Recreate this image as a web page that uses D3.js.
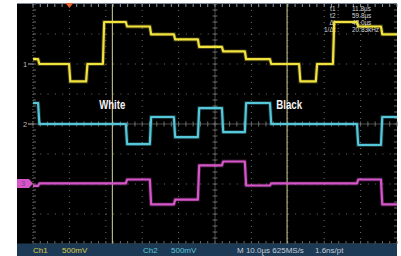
<!DOCTYPE html>
<html>
<head>
<meta charset="utf-8">
<script src="https://cdn.jsdelivr.net/npm/d3@7/dist/d3.min.js"></script>
<style>
  body { margin: 0; background: #fff; }
  svg { display: block; }
</style>
</head>
<body>
<div id="chart"></div>
<script>
// scope settings (10 us/div, 500 mV/div)
var timeDomain = [-10, 90];          // us, trigger at 0
var divDomain = [-4, 4];             // vertical divisions
var mvPerDiv = 500;

// breakpoints of the stepped video signals (us)
var stepTimes = [-10, -8.6, -0.1, 4.6, 9.2, 15.5, 22.1, 28.7, 35.3, 41.9, 48.2, 55.1, 63.1, 67.7, 72.4, 79.0, 85.6, 90];
// levels after each breakpoint (mV)
var ch1Values = [80, 0, -290, 0, 700, 625, 495, 410, 285, 210, 80, 0, -290, 0, 700, 625, 495, 495];
var ch2Values = [350, 0, 0, 0, 0, -335, 117, -220, 265, -135, 350, 0, 0, 0, 0, -350, 117, 117];
var ch3Values = [-40, 0, 0, 0, 0, 65, -350, -270, 300, 365, -35, 0, 0, 0, 0, 65, -350, -350];

var channelNames = ["1", "2", "3"];
var channelOffsets = [2, 0, -1.98];  // divisions
var channelColors = ["#f1e23e", "#56c6d9", "#d656c9"];

var cursorTimes = [11.8, 59.8];
var readoutLabels = ["t1 :", "t2 :", "\u0394t :", "1/\u0394t :"];
var readoutValues = ["11.8\u00b5s", "59.8\u00b5s", "48.0\u00b5s", "20.83kHz"];

var width = 401, height = 256;

var svg = d3.select('#chart')
  .append('svg')
  .attr('width', width)
  .attr('height', height);

///////////////////////
// Scales
var x = d3.scaleLinear().domain(timeDomain).range([33, 397]);
var y = d3.scaleLinear().domain(divDomain).range([244, 4]);

// screen
svg.append('rect').attr('x', 17).attr('y', 3).attr('width', 380).attr('height', 241).attr('fill', '#000');
svg.append('line').attr('x1', 17).attr('x2', 397).attr('y1', 3.5).attr('y2', 3.5)
  .attr('stroke', '#7d8c9c').attr('stroke-width', 1.2);

///////////////////////
// Graticule
var grid = svg.append('g').attr('stroke', '#6a6a6a');
var xMajor = d3.range(-10, 91, 10);
var yMajor = d3.range(-4, 5, 1);
var xMinor = d3.range(-10, 90.01, 2);
var yMinor = d3.range(-4, 4.01, 0.2);

grid.selectAll('.vgrid').data(xMajor.slice(1, -1)).enter().append('line')
  .attr('x1', d => x(d)).attr('x2', d => x(d)).attr('y1', y(4)).attr('y2', y(-4))
  .attr('stroke-width', 1).attr('stroke-dasharray', '1,5');
grid.selectAll('.hgrid').data(yMajor.slice(1, -1)).enter().append('line')
  .attr('y1', d => y(d)).attr('y2', d => y(d)).attr('x1', x(-10)).attr('x2', x(90))
  .attr('stroke-width', 1).attr('stroke-dasharray', '1,6.28');

// edges
grid.append('line').attr('x1', x(-10)).attr('x2', x(-10)).attr('y1', y(4)).attr('y2', y(-4)).attr('stroke-dasharray', '1,2');
grid.append('line').attr('x1', x(-10)).attr('x2', x(90)).attr('y1', y(-4)).attr('y2', y(-4)).attr('stroke', '#555');

// center cross with minor ticks
grid.append('line').attr('x1', x(40)).attr('x2', x(40)).attr('y1', y(4)).attr('y2', y(-4)).attr('stroke', '#4a4a4a');
grid.append('line').attr('x1', x(-10)).attr('x2', x(90)).attr('y1', y(0)).attr('y2', y(0)).attr('stroke', '#4a4a4a');

var tickLen = 2.5;
grid.selectAll('.xt').data(xMinor).enter().append('g').each(function(d) {
  var g = d3.select(this);
  g.append('line').attr('x1', x(d)).attr('x2', x(d)).attr('y1', y(0) - tickLen).attr('y2', y(0) + tickLen);
  g.append('line').attr('x1', x(d)).attr('x2', x(d)).attr('y1', y(4)).attr('y2', y(4) + 3).attr('stroke', '#8a96a4');
  g.append('line').attr('x1', x(d)).attr('x2', x(d)).attr('y1', y(-4)).attr('y2', y(-4) - 3);
});
grid.selectAll('.yt').data(yMinor).enter().append('g').each(function(d) {
  var g = d3.select(this);
  g.append('line').attr('y1', y(d)).attr('y2', y(d)).attr('x1', x(40) - tickLen).attr('x2', x(40) + tickLen);
  g.append('line').attr('y1', y(d)).attr('y2', y(d)).attr('x1', x(-10)).attr('x2', x(-10) + 3);
  g.append('line').attr('y1', y(d)).attr('y2', y(d)).attr('x1', x(90)).attr('x2', x(90) - 3);
});

///////////////////////
// Cursors
svg.selectAll('.cursor').data(cursorTimes).enter().append('line')
  .attr('x1', d => x(d)).attr('x2', d => x(d)).attr('y1', y(4)).attr('y2', y(-4))
  .attr('stroke', '#d6d49a').attr('stroke-width', 1);

// trigger position marker
svg.append('path')
  .attr('d', 'M' + (x(0) - 4) + ',3 L' + (x(0) + 4) + ',3 L' + x(0) + ',8 Z')
  .attr('fill', '#e8622e');

// cursor readout
var readout = svg.append('g').attr('font-family', 'Liberation Sans, Arial, sans-serif')
  .attr('font-size', '6.4px').attr('fill', '#d2d6da');
readoutLabels.forEach(function(lbl, i) {
  readout.append('text').attr('x', 339).attr('y', 10.5 + i * 7).attr('text-anchor', 'end').text(lbl);
  readout.append('text').attr('x', 352).attr('y', 10.5 + i * 7).text(readoutValues[i]);
});

///////////////////////
// Traces
var rise = 0.35;
function tracePoints(values, offset) {
  var pts = [[stepTimes[0], values[0]]];
  for (var i = 1; i < stepTimes.length; i++) {
    pts.push([stepTimes[i], values[i - 1]]);
    if (i < stepTimes.length - 1) pts.push([stepTimes[i] + rise, values[i]]);
  }
  return pts.map(function(p) { return [p[0], p[1] / mvPerDiv + offset]; });
}

var line = d3.line()
  .x(function(d) { return x(d[0]); })
  .y(function(d) { return y(d[1]); });

[ch1Values, ch2Values, ch3Values].forEach(function(vals, i) {
  var pts = tracePoints(vals, channelOffsets[i]);
  svg.append('path').datum(pts)
    .attr('fill', 'none').attr('stroke', channelColors[i])
    .attr('stroke-width', 4).attr('stroke-opacity', 0.25).attr('d', line);
  svg.append('path').datum(pts)
    .attr('fill', 'none').attr('stroke', channelColors[i])
    .attr('stroke-width', 2.2).attr('stroke-linejoin', 'round').attr('d', line);
});

// channel ground markers
[0, 1].forEach(function(i) {
  var yy = y(channelOffsets[i]);
  svg.append('text').attr('x', 23).attr('y', yy + 2.6)
    .attr('font-family', 'Liberation Sans, Arial, sans-serif').attr('font-size', '7.5px')
    .attr('fill', '#b8b8b8').text(channelNames[i]);
  svg.append('line').attr('x1', 28).attr('x2', 33).attr('y1', yy).attr('y2', yy)
    .attr('stroke', '#b8b8b8').attr('stroke-width', 1);
});
var y3 = y(channelOffsets[2]);
svg.append('path')
  .attr('d', 'M17,' + (y3 - 4.5) + ' L29,' + (y3 - 4.5) + ' L33,' + y3 + ' L29,' + (y3 + 4.5) + ' L17,' + (y3 + 4.5) + ' Z')
  .attr('fill', channelColors[2]);
svg.append('text').attr('x', 21).attr('y', y3 + 2.7)
  .attr('font-family', 'Liberation Sans, Arial, sans-serif').attr('font-size', '7.5px')
  .attr('fill', '#8a3a88').text(channelNames[2]);

// annotations
var notes = [{ t: 8.2, text: 'White' }, { t: 56.8, text: 'Black' }];
svg.selectAll('.note').data(notes).enter().append('text')
  .attr('x', d => x(d.t)).attr('y', 108.5)
  .attr('font-family', 'Liberation Sans, Arial, sans-serif')
  .attr('font-weight', 'bold').attr('font-size', '12px').attr('fill', '#f4f4f4')
  .attr('textLength', 26).attr('lengthAdjust', 'spacingAndGlyphs')
  .text(d => d.text);

///////////////////////
// Status bar
svg.append('rect').attr('x', 17).attr('y', 243.5).attr('width', 380).attr('height', 13).attr('fill', '#1c3a55');
var statusItems = [
  { x: 33, y: 252.5, text: 'Ch1', c: '#dccd4c' },
  { x: 62, y: 252.5, text: '500mV', c: '#dccd4c' },
  { x: 143, y: 252.5, text: 'Ch2', c: '#5ec6d8' },
  { x: 171, y: 252.5, text: '500mV', c: '#5ec6d8' },
  { x: 237, y: 252.5, text: 'M 10.0\u00b5s 625MS/s', c: '#c4ced8' },
  { x: 315, y: 252.5, text: '1.6ns/pt', c: '#c4ced8' },
  { x: 33, y: 261, text: 'Ch3', c: '#d656c9' },
  { x: 62, y: 261, text: '500mV', c: '#d656c9' },
  { x: 237, y: 261, text: 'A  Ch1  \u222b  160mV', c: '#c4ced8' }
];
svg.selectAll('.status').data(statusItems).enter().append('text')
  .attr('x', d => d.x).attr('y', d => d.y)
  .attr('font-family', 'Liberation Sans, Arial, sans-serif').attr('font-size', '8px')
  .attr('fill', d => d.c).text(d => d.text);
</script>
</body>
</html>
